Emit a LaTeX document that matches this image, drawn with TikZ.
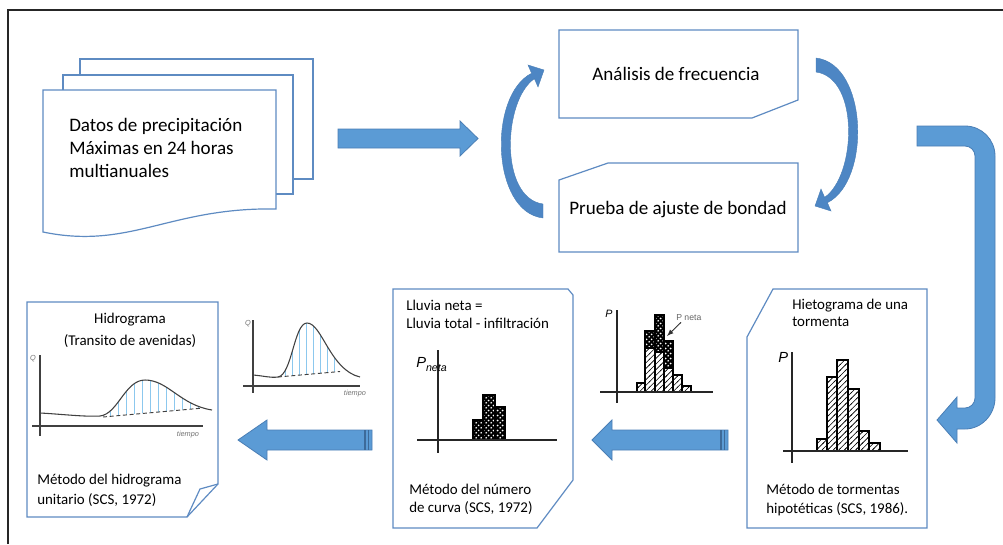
\documentclass[tikz,border=0pt]{standalone}
\usepackage{fontspec}
\setmainfont{Carlito}
\newfontfamily\arialf{Liberation Sans}
\usetikzlibrary{patterns}
\definecolor{docline}{HTML}{5E8BC2}
\definecolor{arrfill}{HTML}{5B9BD5}
\definecolor{arrline}{HTML}{4A7EB5}
\definecolor{curvfill}{HTML}{4D86C4}
\definecolor{hydblue}{HTML}{8CC8EE}
\definecolor{axisc}{HTML}{404040}
\definecolor{stripec}{HTML}{3D6A99}
\pgfdeclarepatternformonly{hatchx}{\pgfqpoint{-1pt}{-1pt}}{\pgfqpoint{5pt}{5pt}}{\pgfqpoint{4.2pt}{4.2pt}}{%
  \pgfsetlinewidth{0.45pt}\pgfpathmoveto{\pgfqpoint{-0.5pt}{-0.5pt}}\pgfpathlineto{\pgfqpoint{4.7pt}{4.7pt}}\pgfusepath{stroke}}
\pgfdeclarepatternformonly{wdots}{\pgfqpoint{0pt}{0pt}}{\pgfqpoint{3.6pt}{3.6pt}}{\pgfqpoint{3.6pt}{3.6pt}}{%
  \pgfpathcircle{\pgfqpoint{0.9pt}{0.9pt}}{0.7pt}\pgfpathcircle{\pgfqpoint{2.7pt}{2.7pt}}{0.7pt}\pgfusepath{fill}}
\begin{document}
\begin{tikzpicture}[x=0.75pt,y=-0.75pt,
  doc/.style={draw=docline, line width=0.9pt, fill=white},
  blockarrow/.style={fill=arrfill, draw=arrline, line width=0.6pt},
  curvarrow/.style={fill=curvfill, draw=arrline, line width=0.3pt},
  toptext/.style={font=\fontsize{14.3}{17}\selectfont, align=left, inner sep=0pt},
  bottext/.style={align=left, inner sep=0pt},
  hydaxis/.style={draw=axisc, line width=1pt},
  hieaxis/.style={draw=black!85, line width=1.1pt},
  hydcurve/.style={draw=axisc, line width=0.8pt},
  hydbase/.style={draw=axisc, line width=0.7pt, dash pattern=on 3pt off 2pt},
  hydline/.style={draw=hydblue, line width=0.7pt},
  hbar/.style={draw=black, line width=0.8pt, pattern=hatchx, pattern color=black},
  cbarbox/.style={draw=black, line width=0.8pt},
  tinylab/.style={font=\arialf\itshape\fontsize{5.5}{6}\selectfont, text=black!55, inner sep=0pt},
  plab/.style={font=\arialf\itshape, inner sep=0pt}
]
\useasboundingbox (0,0) rectangle (1003,544);
% frame
\draw[black!85, line width=0.8pt] (8,544) -- (8,10) -- (1003,10);

% ---------- stacked documents ----------
\draw[doc] (80,59) rectangle (313,179);
\draw[doc] (63,75) rectangle (293,194);
\draw[doc] (43,90) -- (276,90) -- (276,209) .. controls (170,207) and (130,250) .. (43,232) -- cycle;
\node[toptext, anchor=base west] (datos) at (69,177) {Datos de precipitación\\Máximas en 24 horas\\multianuales};

% ---------- right arrow ----------
\draw[blockarrow] (338,129) -- (460,129) -- (460,121) -- (478,138.5) -- (460,156) -- (460,148) -- (338,148) -- cycle;

% ---------- top boxes ----------
\draw[doc] (559,30) -- (798,30) -- (798,100) -- (752,118) -- (559,118) -- cycle;
\node[toptext, anchor=base] (analisis) at (676,80.5) {Análisis de frecuencia};
\draw[doc] (608,163) -- (798,163) -- (798,252) -- (559,252) -- (559,180) -- cycle;
\node[toptext, anchor=base] (prueba) at (678,214) {Prueba de ajuste de bondad};

% ---------- curved arrows ----------
\path[curvarrow] (543,204) -- (543,218) .. controls (491,212) and (488,95) .. (531.6,73.3)
  -- (528,65) -- (544,70) -- (538,87) -- (534.4,78.7) .. controls (503,100) and (499,198) .. (543,204) -- cycle;
\path[curvarrow] (816,72) -- (816,58) .. controls (868,64) and (871,181) .. (827.4,202.7)
  -- (831,211) -- (815,206) -- (821,189) -- (824.6,197.3) .. controls (856,176) and (860,78) .. (816,72) -- cycle;

% ---------- hook arrow ----------
\draw[blockarrow] (917,126) -- (965,126) .. controls (981.6,126) and (995,139.4) .. (995,156)
  -- (995,398) .. controls (995,414.6) and (981.6,429) .. (965,429) -- (957,429) -- (957,443)
  -- (937,420) -- (957,397) -- (957,408) -- (965,408) .. controls (970.5,408) and (975,403.5) .. (975,398)
  -- (975,156) .. controls (975,150.5) and (970.5,146) .. (965,146) -- (917,146) -- cycle;

% ---------- bottom left arrows ----------
\draw[blockarrow] (372,430) -- (267,430) -- (267,420) -- (238,440) -- (267,460) -- (267,450) -- (372,450) -- cycle;
\draw[stripec, line width=0.8pt] (365,430) -- (365,450) (368.5,430) -- (368.5,450);
\draw[blockarrow] (728,430) -- (612,430) -- (612,420) -- (592,440) -- (612,460) -- (612,450) -- (728,450) -- cycle;
\draw[stripec, line width=0.8pt] (721,430) -- (721,450) (724.5,430) -- (724.5,450);

% ---------- Hidrograma document ----------
\draw[doc] (27,302) -- (218,302) -- (218,484) -- (187,517) -- (27,517) -- cycle;
\draw[docline, line width=0.9pt] (218,484) -- (200,489) -- (187,517);
\node[bottext, align=center, anchor=base, font=\fontsize{11.2}{17}\selectfont] (hidro) at (130,345.7) {Hidrograma\\(Transito de avenidas)};
\node[bottext, anchor=base west, font=\fontsize{11.2}{15}\selectfont] (hidrom) at (37,504) {Método del hidrograma\\unitario (SCS, 1972)};
% big hydrograph
\begin{scope}
  \clip (100,416) .. controls (118,414) and (125,380) .. (145,380) .. controls (168,380) and (180,405) .. (212,410) -- (212,407) -- (100,417) -- cycle;
  \foreach \xx in {110,118,...,198} \draw[hydline] (\xx,370) -- (\xx,420);
\end{scope}
\draw[hydaxis] (40,355) -- (40,436);
\draw[hydaxis] (32,426) -- (203,426);
\draw[hydcurve] (40,413) .. controls (60,414) and (85,417) .. (100,416) .. controls (118,414) and (125,380) .. (145,380) .. controls (168,380) and (180,405) .. (212,410);
\draw[hydbase] (103,417) -- (200,408.3);
\node[tinylab, anchor=base] (qa) at (33,360) {Q};
\node[tinylab, anchor=base] (ta) at (188,436) {tiempo};

% small hydrograph
\begin{scope}
  \clip (278,377) .. controls (292,375) and (294,323) .. (307,323) .. controls (322,323) and (330,370) .. (360,377) -- (360,369) -- (278,377.5) -- cycle;
  \foreach \xx in {285,292,...,338} \draw[hydline] (\xx,315) -- (\xx,380);
\end{scope}
\draw[hydaxis] (253,320) -- (253,393);
\draw[hydaxis] (243,386) -- (360,386);
\draw[hydcurve] (253,375) .. controls (265,376) and (270,378) .. (278,377) .. controls (292,375) and (294,323) .. (307,323) .. controls (322,323) and (330,370) .. (360,377);
\draw[hydbase] (278,377) -- (340,371.5);
\node[tinylab, anchor=base] (qb) at (248,325) {Q};
\node[tinylab, anchor=base] (tb) at (355,395) {tiempo};

% ---------- Lluvia neta document ----------
\draw[doc] (393,289) -- (568,289) -- (573,295) -- (573,480) -- (537,528) -- (393,528) -- cycle;
\node[bottext, anchor=base west, font=\fontsize{11.2}{13.2}\selectfont] (lluvia) at (406,328.3) {Lluvia neta =\\Lluvia total - infiltración};
\node[bottext, anchor=base west, font=\fontsize{11.2}{13}\selectfont] (numero) at (409,512.3) {Método del número\\de curva (SCS, 1972)};
\foreach \a/\b/\t in {473/483/420, 483/495/395, 495/505/407}{
  \fill[black] (\a,\t) rectangle (\b,440);
  \fill[pattern=wdots, pattern color=white] (\a,\t) rectangle (\b,440);
  \draw[cbarbox] (\a,\t) rectangle (\b,440);
}
\draw[hieaxis] (438,350) -- (438,453);
\draw[hieaxis] (417,440) -- (557,440);
\node[plab, anchor=base west] (pneta) at (416,367) {\fontsize{11}{12}\selectfont P\raisebox{-3pt}{\fontsize{8}{9}\selectfont neta}};

% ---------- small hietogram ----------
\foreach \a/\b/\t in {637/645/383, 645/655/348, 655/664/352, 664/673/368, 673/682/375, 682/691/386}{
  \draw[hbar] (\a,\t) rectangle (\b,392);
}
\foreach \a/\b/\t/\u in {645/655/331/348, 655/664/315/352, 664/673/341/368}{
  \fill[black] (\a,\t) rectangle (\b,\u);
  \fill[pattern=wdots, pattern color=white] (\a,\t) rectangle (\b,\u);
  \draw[cbarbox] (\a,\t) rectangle (\b,\u);
}
\draw[hieaxis] (617,310) -- (617,403);
\draw[hieaxis] (600,392) -- (713,392);
\node[plab, anchor=base west, font=\arialf\itshape\fontsize{8}{9}\selectfont] (psmall) at (605,317) {P};
\node[anchor=base west, inner sep=0pt, font=\arialf\fontsize{6.5}{7}\selectfont, text=black!60] (pnlab) at (676,320) {P neta};
\coordinate (pnarr) at (667,336);
\draw[black!80, line width=0.7pt, -{latex}] (pnlab.south west) ++(5,2) -- (pnarr);

% ---------- Hietograma document ----------
\draw[doc] (773,289) -- (927,289) -- (927,528) -- (747,528) -- (747,337) -- cycle;
\node[bottext, anchor=base west, font=\fontsize{11.2}{12.75}\selectfont] (hieto) at (792,326) {Hietograma de una\\tormenta};
\node[bottext, anchor=base west, font=\fontsize{11.2}{14.25}\selectfont] (tormentas) at (766,513) {Método de tormentas\\hipotéticas (SCS, 1986).};
\foreach \a/\b/\t in {817/827/439, 827/837/377, 837/848/360, 848/859/389, 859/869/431, 869/880/443}{
  \draw[hbar] (\a,\t) rectangle (\b,451);
}
\draw[hieaxis] (792,352) -- (792,463);
\draw[hieaxis] (783,451) -- (908,451);
\node[plab, anchor=base west, font=\arialf\itshape\fontsize{11}{12}\selectfont] (pbig) at (778,362) {P};
\end{tikzpicture}
\end{document}
